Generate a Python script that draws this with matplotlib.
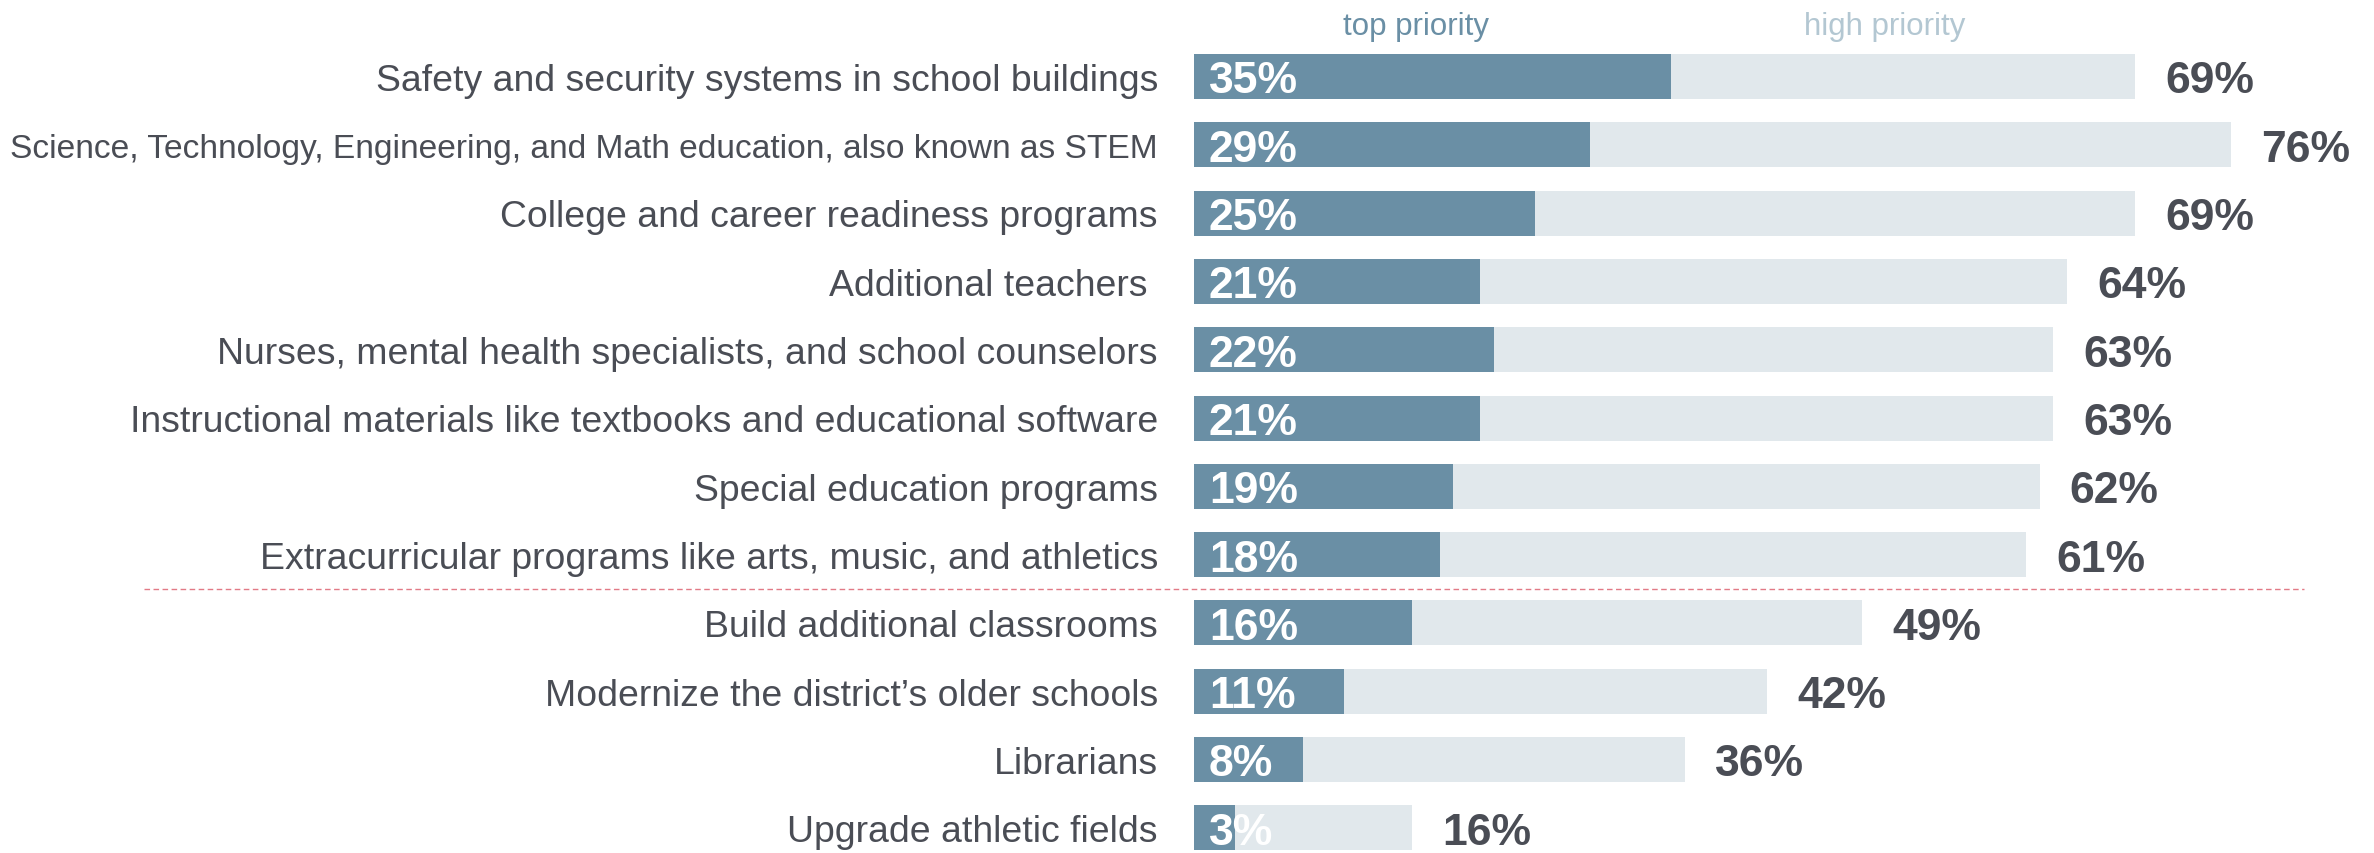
import matplotlib
matplotlib.use("Agg")
import matplotlib.pyplot as plt
from matplotlib.transforms import offset_copy
from matplotlib.lines import Line2D

categories = [
    "Safety and security systems in school buildings",
    "Science, Technology, Engineering, and Math education, also known as STEM",
    "College and career readiness programs",
    "Additional teachers ",
    "Nurses, mental health specialists, and school counselors",
    "Instructional materials like textbooks and educational software",
    "Special education programs",
    "Extracurricular programs like arts, music, and athletics",
    "Build additional classrooms",
    "Modernize the district\u2019s older schools",
    "Librarians",
    "Upgrade athletic fields",
]
top_priority = [35, 29, 25, 21, 22, 21, 19, 18, 16, 11, 8, 3]
high_priority = [69, 76, 69, 64, 63, 63, 62, 61, 49, 42, 36, 16]
series_names = ["top priority", "high priority"]

W, H, DPI = 2374, 854, 100
plt.rcParams['font.family'] = ['Liberation Sans', 'DejaVu Sans']
fig = plt.figure(figsize=(W / DPI, H / DPI), dpi=DPI)

dark = "#6a8fa5"
light = "#e1e8ec"
textc = "#4a4d55"

left_px = 1194
px_per = 13.64
xmax = 85
row0 = 77.5
step = 68.3
ax = fig.add_axes([left_px / W, 0, xmax * px_per / W, 1])
ax.set_xlim(0, xmax)
ax.set_ylim((H - row0) / step, -row0 / step)
ax.axis("off")

n = len(categories)
ys = list(range(n))
bh = 45 / step
ax.barh(ys, high_priority, height=bh, color=light, zorder=1)
ax.barh(ys, top_priority, height=bh, color=dark, zorder=2)


def base_off(fs):
    return -0.358 * fs * DPI / 72


for i, (cat, t, h) in enumerate(zip(categories, top_priority, high_priority)):
    fs = 24.1 if "STEM" in cat else 26.9
    ax.text(0, i, cat, ha="right", va="baseline", fontsize=fs, color=textc,
            transform=offset_copy(ax.transData, fig, x=-36, y=base_off(fs), units="dots"))
    ax.text(0, i, f"{t}%", ha="left", va="baseline", fontsize=32, fontweight="bold",
            color="white", zorder=3,
            transform=offset_copy(ax.transData, fig, x=15, y=base_off(32), units="dots"))
    ax.text(h, i, f"{h}%", ha="left", va="baseline", fontsize=32, fontweight="bold",
            color=textc,
            transform=offset_copy(ax.transData, fig, x=30, y=base_off(32), units="dots"))

# legend-like headers
fig.text(1416 / W, 1 - 27 / H, series_names[0], ha="center", va="center",
         fontsize=22.5, color=dark)
fig.text(1885 / W, 1 - 27 / H, series_names[1], ha="center", va="center",
         fontsize=22.5, color="#b3c7d2")

# separator
yl = 1 - 590 / H
fig.add_artist(Line2D([144 / W, 2304 / W], [yl, yl], transform=fig.transFigure,
                      color="#e27a86", lw=1.0, ls=(0, (4, 2.5))))

fig.savefig("out.png", dpi=DPI)
